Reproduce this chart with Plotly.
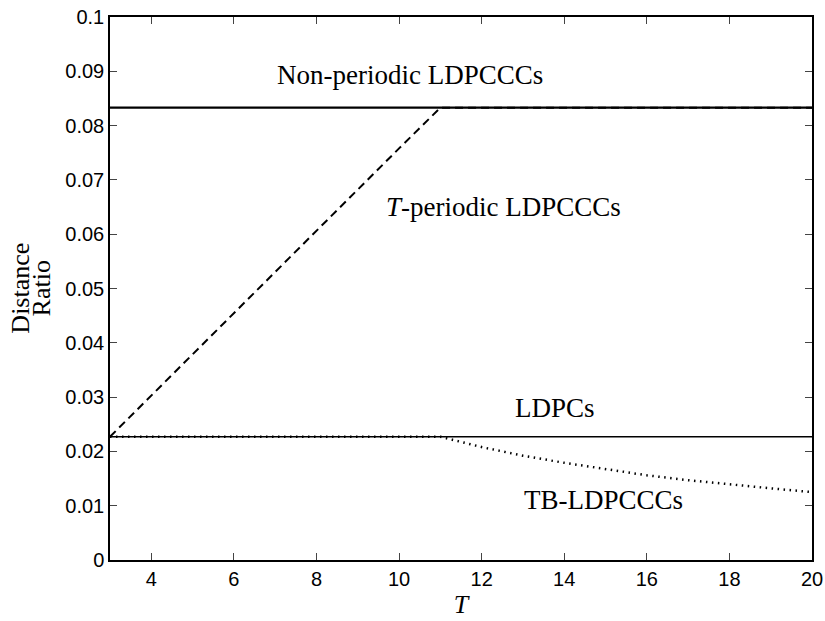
import plotly.graph_objects as go

T = list(range(3, 21))
non_periodic = [0.0833] * len(T)
t_periodic = [0.0227, 0.0303, 0.0379, 0.0455, 0.0530, 0.0606, 0.0682, 0.0758, 0.0833,
              0.0833, 0.0833, 0.0833, 0.0833, 0.0833, 0.0833, 0.0833, 0.0833, 0.0833]
ldpc = [0.0227] * len(T)
tb_ldpccc = [0.0227, 0.0227, 0.0227, 0.0227, 0.0227, 0.0227, 0.0227, 0.0227, 0.0227,
             0.0208, 0.0192, 0.0179, 0.0167, 0.0156, 0.0147, 0.0139, 0.0132, 0.0125]

x_ticks = [4, 6, 8, 10, 12, 14, 16, 18, 20]
y_ticks = [0, 0.01, 0.02, 0.03, 0.04, 0.05, 0.06, 0.07, 0.08, 0.09, 0.1]
y_tick_labels = ["0", "0.01", "0.02", "0.03", "0.04", "0.05", "0.06", "0.07", "0.08", "0.09", "0.1"]

labels = [
    ("Non-periodic LDPCCCs", 10.26, 0.0893),
    ("<i>T</i>-periodic LDPCCCs", 12.52, 0.065),
    ("LDPCs", 13.77, 0.028),
    ("TB-LDPCCCs", 14.96, 0.011),
]

fig = go.Figure()
fig.add_trace(go.Scatter(x=T, y=non_periodic, mode="lines",
                         line=dict(color="black", width=2.2)))
fig.add_trace(go.Scatter(x=T, y=ldpc, mode="lines",
                         line=dict(color="black", width=1.5)))
fig.add_trace(go.Scatter(x=T, y=t_periodic, mode="lines",
                         line=dict(color="black", width=2, dash="8px,5px")))
fig.add_trace(go.Scatter(x=T, y=tb_ldpccc, mode="lines",
                         line=dict(color="black", width=2.5, dash="1.5px,4.5px")))

for text, lx, ly in labels:
    fig.add_annotation(x=lx, y=ly, xref="x", yref="y", text=text, showarrow=False,
                       font=dict(family="Liberation Serif", size=27, color="black"))

# two-line rotated y label
for word, px in [("Distance", -0.128), ("Ratio", -0.097)]:
    fig.add_annotation(x=px, y=0.5, xref="paper", yref="paper", xanchor="center", yanchor="middle",
                       text=word, textangle=-90, showarrow=False,
                       font=dict(family="Liberation Serif", size=26, color="black"))

axis_common = dict(showline=True, linecolor="black", linewidth=1.5, mirror="allticks",
                   ticks="inside", ticklen=7, tickwidth=1, tickcolor="#444",
                   showgrid=False, zeroline=False, automargin=False,
                   ticklabeloverflow="allow",
                   tickfont=dict(family="Liberation Sans", size=20, color="black"))

fig.update_layout(
    width=825, height=621,
    margin=dict(l=110, r=13, t=17, b=61, autoexpand=False),
    plot_bgcolor="white", paper_bgcolor="white",
    showlegend=False,
    xaxis=dict(range=[3, 20], tickvals=x_ticks,
               title=dict(text="<i>T</i>", standoff=6,
                          font=dict(family="Liberation Serif", size=26, color="black")),
               **axis_common),
    yaxis=dict(range=[0, 0.1], tickvals=y_ticks, ticktext=y_tick_labels, **axis_common),
)

fig.write_html("out.html", config={"displayModeBar": False},
               post_script="document.body.style.margin='0';document.body.style.overflow='hidden';")
